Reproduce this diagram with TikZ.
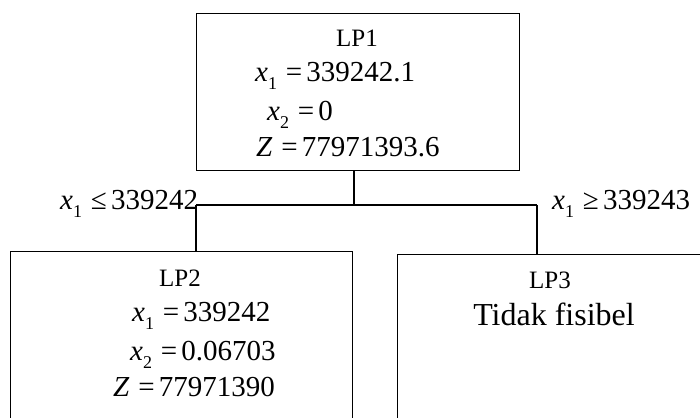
\documentclass[tikz,border=0pt]{standalone}
\usepackage{fontspec}
\setmainfont{Liberation Serif}
\newcommand\myvar[2]{\textit{#1}\raisebox{-0.28em}{\fontsize{18}{18}\selectfont #2}}
\newcommand\myeq{\hspace{0.3em}=\hspace{0.15em}}
\tikzset{
  box/.style={draw, line width=1.4pt, rectangle, inner sep=0pt, anchor=north west},
  lab/.style={inner sep=0pt, font=\fontsize{25}{25}\selectfont},
  mth/.style={inner sep=0pt, anchor=base west, font=\fontsize{29}{29}\selectfont},
  conn/.style={line width=1.4pt}
}
\begin{document}
\begin{tikzpicture}[x=1pt,y=-1pt]
\useasboundingbox (0,0) rectangle (700,417);
\clip (0,0) rectangle (700,417);
% boxes
\node[box, minimum width=323pt, minimum height=157pt] (lp1) at (196,13) {};
\node[box, minimum width=342pt, minimum height=200pt] (lp2) at (10,251) {};
\node[box, minimum width=340pt, minimum height=200pt] (lp3) at (397,254) {};
% connectors
\coordinate (j) at (354,205);
\coordinate (jl) at (196,205);
\coordinate (jr) at (537,205);
\draw[conn] (lp1.south -| j) -- (j);
\draw[conn] (jl) -- (jr);
\draw[conn] (jl) -- (jl |- lp2.north);
\draw[conn] (jr) -- (jr |- lp3.north);
% LP1 text
\node[lab, anchor=base] (t1) at (357,46.7) {LP1};
\node[mth] (t1a) at (255,81.7) {\myvar{x}{1}\myeq339242.1};
\node[mth] (t1b) at (267,120) {\myvar{x}{2}\myeq0};
\node[mth] (t1c) at (256,156.7) {\textit{Z}\myeq77971393.6};
% branch labels
\node[mth] (bl) at (60,209.3) {\myvar{x}{1}\hspace{0.3em}≤\hspace{0.15em}339242};
\node[mth] (br) at (552,209.3) {\myvar{x}{1}\hspace{0.3em}≥\hspace{0.15em}339243};
% LP2 text
\node[lab, anchor=base] (t2) at (180,286.7) {LP2};
\node[mth] (t2a) at (132,321.7) {\myvar{x}{1}\myeq339242};
\node[mth] (t2b) at (130,360) {\myvar{x}{2}\myeq0.06703};
\node[mth] (t2c) at (113,396.7) {\textit{Z}\myeq77971390};
% LP3 text
\node[lab, anchor=base] (t3) at (550,288.3) {LP3};
\node[inner sep=0pt, anchor=base, font=\fontsize{32}{32}\selectfont] (t3a) at (554,325) {Tidak fisibel};
\end{tikzpicture}
\end{document}
